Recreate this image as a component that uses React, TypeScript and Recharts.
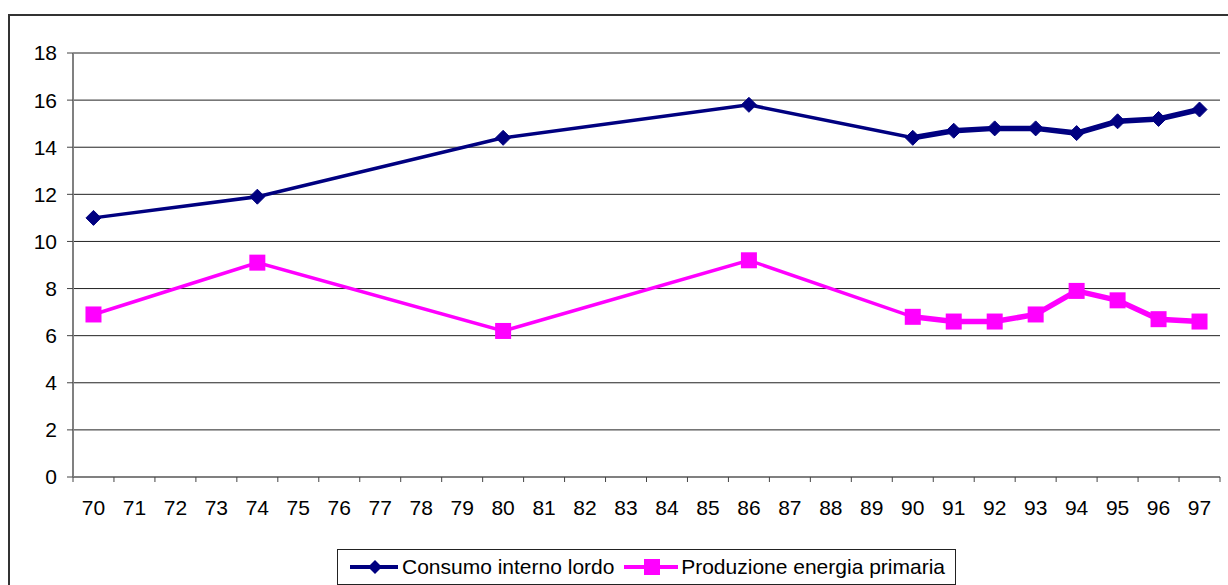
import React from "react";
import {
  LineChart,
  Line,
  XAxis,
  YAxis,
  CartesianGrid,
  Legend,
} from "recharts";

// anni (70 = 1970 ... 97 = 1997)
const years = [
  70, 71, 72, 73, 74, 75, 76, 77, 78, 79, 80, 81, 82, 83, 84, 85, 86, 87, 88,
  89, 90, 91, 92, 93, 94, 95, 96, 97,
];

const consumo = [
  11.0, null, null, null, 11.9, null, null, null, null, null, 14.4, null, null,
  null, null, null, 15.8, null, null, null, 14.4, 14.7, 14.8, 14.8, 14.6, 15.1,
  15.2, 15.6,
];

const produzione = [
  6.9, null, null, null, 9.1, null, null, null, null, null, 6.2, null, null,
  null, null, null, 9.2, null, null, null, 6.8, 6.6, 6.6, 6.9, 7.9, 7.5, 6.7,
  6.6,
];

const yTicks = [0, 2, 4, 6, 8, 10, 12, 14, 16, 18];

// serie annuale continua dal 1990 (tratto piu' spesso)
const annualFrom = 90;

const NAVY = "#000080";
const MAGENTA = "#FF00FF";
const FONT = "'Liberation Sans', Arial, sans-serif";

const CHART_W = 1218;
const MARGIN = { top: 37, right: 8, left: 13, bottom: 0 };
const Y_AXIS_W = 50;
const PLOT_W = CHART_W - MARGIN.left - MARGIN.right - Y_AXIS_W;
const HALF_STEP = PLOT_W / years.length / 2;
const TICK_MARGIN = 23;

const data = years.map((y, i) => ({
  year: y,
  consumo: consumo[i],
  produzione: produzione[i],
  consumoAnnuale: y >= annualFrom ? consumo[i] : null,
  produzioneAnnuale: y >= annualFrom ? produzione[i] : null,
}));

const Diamond = (props: any) => {
  const { cx, cy, value, index } = props;
  if (value == null || cx == null || cy == null) return <g key={`d${index}`} />;
  return (
    <polygon
      key={`d${index}`}
      points={`${cx},${cy - 7.5} ${cx + 7.5},${cy} ${cx},${cy + 7.5} ${cx - 7.5},${cy}`}
      fill={NAVY}
      stroke={NAVY}
    />
  );
};

const Square = (props: any) => {
  const { cx, cy, value, index } = props;
  if (value == null || cx == null || cy == null) return <g key={`s${index}`} />;
  return (
    <rect
      key={`s${index}`}
      x={cx - 8}
      y={cy - 8}
      width={16}
      height={16}
      fill={MAGENTA}
    />
  );
};

// etichetta centrata sull'anno, trattino sul bordo della categoria (stile Excel)
const YearTick = (props: any) => {
  const { x, y, payload, index } = props;
  const axisY = y - TICK_MARGIN;
  const last = index === years.length - 1;
  return (
    <g>
      <line x1={x - HALF_STEP} y1={axisY} x2={x - HALF_STEP} y2={axisY + 5} stroke="#444" />
      {last && (
        <line x1={x + HALF_STEP} y1={axisY} x2={x + HALF_STEP} y2={axisY + 5} stroke="#444" />
      )}
      <text
        x={x}
        y={y}
        dy="0.71em"
        textAnchor="middle"
        fill="#000"
        fontSize={21}
        fontFamily={FONT}
      >
        {payload.value}
      </text>
    </g>
  );
};

const LegendBox = () => (
  <div
    style={{
      boxSizing: "border-box",
      height: 36,
      border: "1px solid #222",
      background: "#fff",
      display: "flex",
      alignItems: "center",
      padding: "0 10px 0 12px",
      fontFamily: FONT,
      fontSize: 21,
      color: "#000",
      whiteSpace: "nowrap",
    }}
  >
    <svg width={50} height={20}>
      <line x1={0} y1={10} x2={50} y2={10} stroke={NAVY} strokeWidth={4} />
      <polygon points="25,3 32,10 25,17 18,10" fill={NAVY} />
    </svg>
    <span style={{ marginLeft: 4 }}>Consumo interno lordo</span>
    <svg width={56} height={20} style={{ marginLeft: 10 }}>
      <line x1={0} y1={10} x2={56} y2={10} stroke={MAGENTA} strokeWidth={4} />
      <rect x={20} y={2} width={16} height={16} fill={MAGENTA} />
    </svg>
    <span style={{ marginLeft: 3 }}>Produzione energia primaria</span>
  </div>
);

const App = () => {
  return (
    <div
      style={{
        position: "absolute",
        left: 8,
        top: 14,
        width: 1220,
        height: 571,
        borderTop: "2px solid #333",
        borderLeft: "2px solid #333",
        background: "#fff",
        overflow: "hidden",
      }}
    >
      <LineChart
        width={CHART_W}
        height={569}
        data={data}
        margin={MARGIN}
        style={{ fontFamily: FONT }}
      >
        <CartesianGrid vertical={false} stroke="#222" strokeWidth={1} />
        <XAxis
          dataKey="year"
          type="number"
          domain={[years[0] - 0.5, years[years.length - 1] + 0.5]}
          ticks={years}
          interval={0}
          axisLine={{ stroke: "#808080", strokeWidth: 2 }}
          tickLine={false}
          tickSize={0}
          tickMargin={TICK_MARGIN}
          tick={YearTick}
          height={72}
        />
        <YAxis
          domain={[0, 18]}
          ticks={yTicks}
          interval={0}
          width={Y_AXIS_W}
          tickSize={6}
          tickMargin={10}
          tickLine={{ stroke: "#444" }}
          axisLine={{ stroke: "#808080", strokeWidth: 2 }}
          tick={{ fill: "#000", fontSize: 21, fontFamily: FONT }}
        />
        <Legend
          verticalAlign="bottom"
          content={() => <LegendBox />}
          wrapperStyle={{ left: 327, bottom: 0, width: 619 }}
        />
        <Line
          dataKey="consumo"
          name="Consumo interno lordo"
          stroke={NAVY}
          strokeWidth={3.5}
          connectNulls
          dot={Diamond}
          activeDot={false}
          isAnimationActive={false}
        />
        <Line
          dataKey="consumoAnnuale"
          stroke={NAVY}
          strokeWidth={5.5}
          dot={false}
          activeDot={false}
          legendType="none"
          isAnimationActive={false}
        />
        <Line
          dataKey="produzione"
          name="Produzione energia primaria"
          stroke={MAGENTA}
          strokeWidth={3.5}
          connectNulls
          dot={Square}
          activeDot={false}
          isAnimationActive={false}
        />
        <Line
          dataKey="produzioneAnnuale"
          stroke={MAGENTA}
          strokeWidth={5.5}
          dot={false}
          activeDot={false}
          legendType="none"
          isAnimationActive={false}
        />
      </LineChart>
    </div>
  );
};

export default App;
